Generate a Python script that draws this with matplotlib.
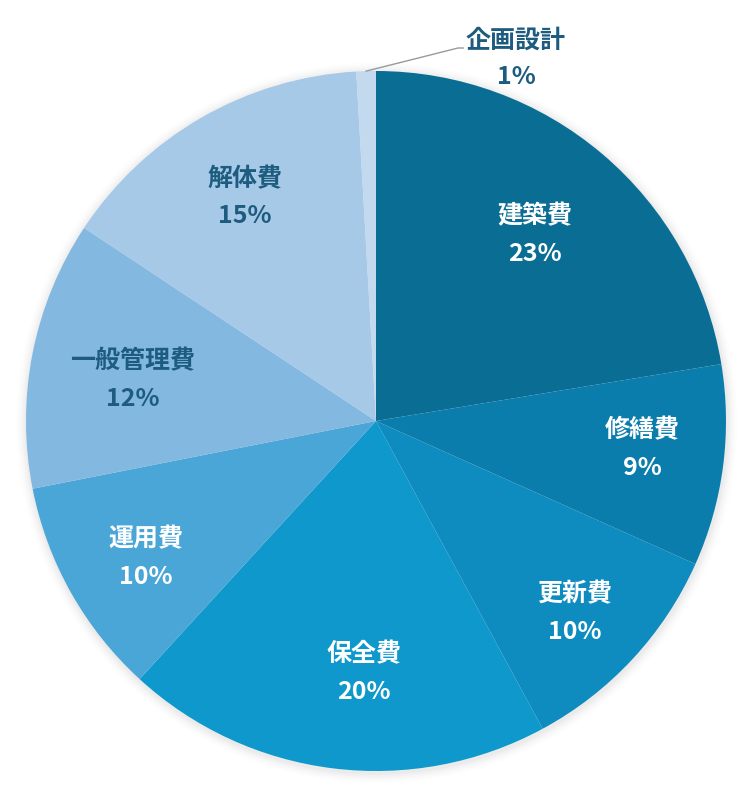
import numpy as np
import matplotlib.pyplot as plt
from matplotlib.patches import Circle

plt.rcParams['font.family'] = ['Noto Sans CJK JP', 'DejaVu Sans']

# ---- data ----
labels = ["建築費", "修繕費", "更新費", "保全費", "運用費", "一般管理費", "解体費", "企画設計"]
# slice sizes as drawn (estimated from the slice boundaries)
shares = [22.4, 9.3, 10.4, 19.7, 10.1, 12.4, 14.8, 0.9]
# percentages as printed on the chart
pct_text = ["23%", "9%", "10%", "20%", "10%", "12%", "15%", "1%"]
colors = ["#0a6d94", "#0b7dac", "#0e8bbf", "#0f98cc", "#4ba6d8",
          "#83b8e0", "#a6c9e8", "#c2d9ee"]
text_colors = ["white", "white", "white", "white", "white",
               "#1d5c7e", "#1d5c7e", "#1d5c7e"]

# label placement (fraction of radius, angle nudge in degrees)
label_r = [0.70, 0.766, 0.79, 0.72, 0.766, 0.706, 0.74, None]
label_da = [0.2, -1.4, 1.2, -4.3, -1.4, -1.7, -0.5, None]

W, H = 755, 800
cx, cy, R = 376, 421, 350

fig = plt.figure(figsize=(W / 100, H / 100), dpi=100)
ax = fig.add_axes([(cx - R) / W, (H - cy - R) / H, 2 * R / W, 2 * R / H])

wedges, _ = ax.pie(shares, colors=colors, startangle=90, counterclock=False,
                   radius=1.0, normalize=True, wedgeprops=dict(linewidth=0))
for w in wedges:
    w.set_zorder(2)

# pie() sets its own limits, so fix them afterwards
ax.set_xlim(-1, 1)
ax.set_ylim(-1, 1)
ax.set_aspect("auto")
ax.axis("off")

# soft shadow round the pie
for i, a in enumerate([0.025, 0.02, 0.015, 0.01, 0.006]):
    ax.add_patch(Circle((0.002, -0.005), 1.0 + 0.006 * (i + 1), color="black",
                        alpha=a, lw=0, zorder=0, clip_on=False))

fs = 18
total = sum(shares)
cum = np.cumsum([0] + shares) / total * 100
# labels inside the slices
for i, lab in enumerate(labels):
    if label_r[i] is None:
        continue
    mid = np.deg2rad((cum[i] + cum[i + 1]) / 2 / 100 * 360 + label_da[i])
    x, y = label_r[i] * np.sin(mid), label_r[i] * np.cos(mid)
    ax.text(x, y + 0.054, lab, ha="center", va="center", fontsize=fs,
            fontweight="bold", color=text_colors[i], zorder=3)
    ax.text(x, y - 0.054, pct_text[i], ha="center", va="center", fontsize=fs,
            fontweight="bold", color=text_colors[i], zorder=3)

# small slice: label outside with leader line
i = labels.index("企画設計")
mid = (cum[i] + cum[i + 1]) / 2 / 100 * 2 * np.pi
p0 = (np.sin(mid) * 1.0, np.cos(mid) * 1.0)
p1 = ((458 - cx) / R, (cy - 48) / R)
ax.plot([p0[0], p1[0], p1[0] + 0.015], [p0[1], p1[1], p1[1]], color="#9a9a9a",
        lw=1.0, zorder=3, clip_on=False)
tx = (516 - cx) / R
ax.text(tx, (cy - 41) / R, labels[i], ha="center", va="center", fontsize=fs,
        fontweight="bold", color=text_colors[i], clip_on=False)
ax.text(tx, (cy - 77) / R, pct_text[i], ha="center", va="center",
        fontsize=fs, fontweight="bold", color=text_colors[i], clip_on=False)

fig.savefig("out.png", dpi=100, facecolor="white")
